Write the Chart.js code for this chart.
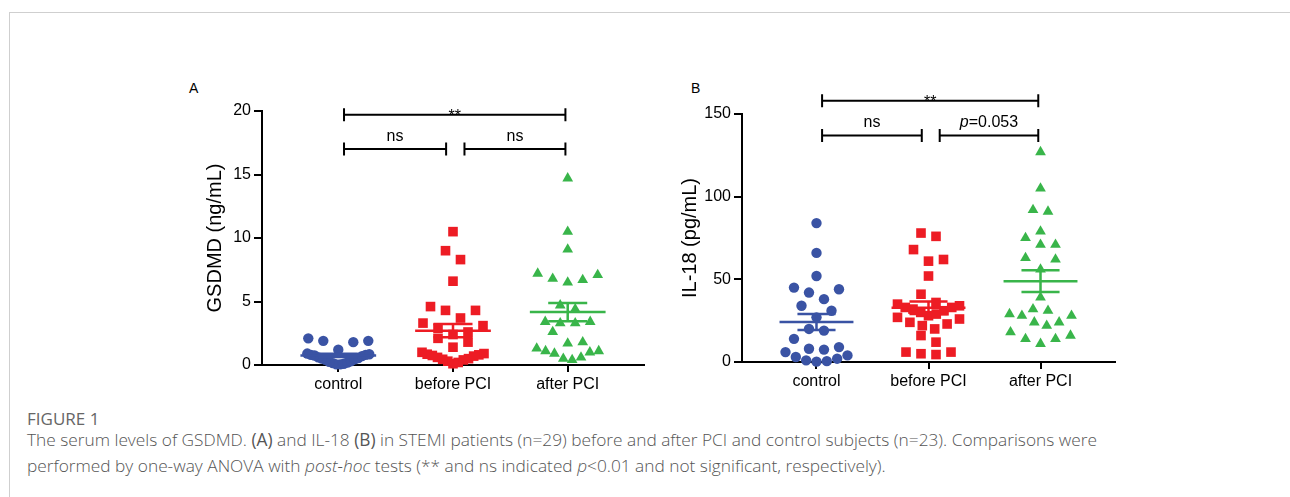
<!DOCTYPE html>
<html>
<head>
<meta charset="utf-8">
<script src="https://cdn.jsdelivr.net/npm/chart.js@4.4.1/dist/chart.umd.min.js"></script>
<style>
  body { margin: 0; background: #fff; width: 1290px; height: 497px; overflow: hidden; position: relative; font-family: "Open Sans", sans-serif; }
  .card { position: absolute; left: 9px; top: 12px; width: 1400px; height: 600px; border: 1px solid #cfcfcf; }
  .panel { position: absolute; }
  .letter { position: absolute; font: 14px/14px "Liberation Sans", Arial, sans-serif; color: #000; }
  .fig { position: absolute; left: 27px; top: 410px; font-size: 17px; line-height: 17px; color: #666; }
  .caption { position: absolute; left: 27px; top: 427px; font-size: 17.3px; font-weight: 300; line-height: 26px; color: #555; white-space: nowrap; }
</style>
</head>
<body>
<div class="card"></div>
<div class="letter" style="left:189px;top:81px">A</div>
<div class="letter" style="left:691px;top:81px">B</div>
<canvas id="chartA" class="panel" width="480" height="320" style="left:180px;top:80px"></canvas>
<canvas id="chartB" class="panel" width="480" height="320" style="left:660px;top:80px"></canvas>
<div class="fig">FIGURE 1</div>
<div class="caption">The serum levels of GSDMD. <b>(A)</b> and IL-18 <b>(B)</b> in STEMI patients (n=29) before and after PCI and control subjects (n=23). Comparisons were<br>performed by one-way ANOVA with <i>post-hoc</i> tests (** and ns indicated <i>p</i>&lt;0.01 and not significant, respectively).</div>

<script>
// --- DATA ---
const categories = ['control', 'before PCI', 'after PCI'];

// GSDMD (ng/mL), panel A
const gsdmdControl = [2.1, 1.9, 1.8, 1.9, 1.2, 0.9, 0.85, 0.8, 0.8, 0.75, 0.7, 0.6, 0.55, 0.5, 0.45, 0.4, 0.3, 0.25, 0.2, 0.15, 0.1, 0.05, 0.05];
const gsdmdBefore = [10.5, 9.0, 8.3, 6.6, 4.6, 4.3, 4.3, 3.7, 3.3, 3.1, 2.9, 2.6, 2.4, 2.1, 1.8, 1.4, 1.0, 0.9, 0.85, 0.8, 0.75, 0.7, 0.6, 0.5, 0.45, 0.4, 0.3, 0.2, 0.1];
const gsdmdAfter = [14.7, 10.5, 9.1, 7.2, 7.1, 6.8, 6.7, 6.5, 4.7, 4.4, 3.4, 3.3, 3.3, 3.4, 2.6, 1.8, 1.7, 1.3, 1.1, 1.1, 1.0, 0.9, 0.6, 0.5, 0.4];
const gsdmdTicks = [0, 5, 10, 15, 20];
const gsdmdBrackets = [
  { from: 0, to: 2, y: 19.7, label: '**' },
  { from: 0, to: 1, y: 17.0, label: 'ns' },
  { from: 1, to: 2, y: 17.0, label: 'ns' }
];

// IL-18 (pg/mL), panel B
const il18Control = [84, 66, 52, 45, 44, 42, 38, 34, 31, 27, 20, 19, 14, 9, 8, 7.5, 6, 4, 3, 2, 1, 0.5, 0.2];
const il18Before = [78, 76, 68, 62, 61, 52, 41, 36, 35, 34, 33, 33, 32, 31, 30, 29, 28, 27, 26, 24, 23, 22, 20, 16, 12, 6, 6, 5, 4.5];
const il18After = [127, 105, 92, 91, 79, 75, 71, 71, 63, 62, 56, 39, 32, 31, 29, 28, 28, 24, 24, 22, 18, 16, 14, 14, 11];
const il18Ticks = [0, 50, 100, 150];
const il18Brackets = [
  { from: 0, to: 2, y: 158, label: '**' },
  { from: 0, to: 1, y: 137, label: 'ns' },
  { from: 1, to: 2, y: 137, label: 'p=0.053' }
];

// --- STYLE ---
const groupColors = ['#3a53a4', '#ed1c24', '#39b54a'];
const markerStyles = ['circle', 'rect', 'triangle'];
const markerRadius = [5.2, 6.8, 6.2];
const FONT = '"Liberation Sans", Arial, sans-serif';
const ROW_PX = 12;   // points closer than this (vertically) share a row
const STEP_PX = 15;  // preferred horizontal spacing in a row
const SPAN_PX = 62;  // max spread of a row (centre to centre)

function meanSem(v) {
  const n = v.length;
  const m = v.reduce((a, b) => a + b, 0) / n;
  const sd = Math.sqrt(v.reduce((a, b) => a + (b - m) ** 2, 0) / (n - 1));
  return [m, sd / Math.sqrt(n)];
}

// mean line + SEM whiskers, gaps via null
function summaryPoints(i, vals) {
  const [m, se] = meanSem(vals);
  const c = i + 1;
  return [
    { x: c - 0.33, y: m }, { x: c + 0.33, y: m }, { x: c, y: null },
    { x: c - 0.17, y: m + se }, { x: c + 0.17, y: m + se }, { x: c, y: null },
    { x: c - 0.17, y: m - se }, { x: c + 0.17, y: m - se }, { x: c, y: null },
    { x: c, y: m - se }, { x: c, y: m + se }
  ];
}

function buildDatasets(groups) {
  const sets = [];
  groups.forEach((vals, i) => {
    sets.push({
      data: summaryPoints(i, vals),
      showLine: true, spanGaps: false, pointRadius: 0,
      borderColor: groupColors[i], borderWidth: 2.5, order: 0, clip: false
    });
  });
  groups.forEach((vals, i) => {
    sets.push({
      values: vals, center: i + 1,
      data: vals.map(v => ({ x: i + 1, y: v })),
      pointStyle: markerStyles[i], pointRadius: markerRadius[i],
      backgroundColor: groupColors[i], borderColor: groupColors[i], borderWidth: 0,
      order: 1, clip: false
    });
  });
  return sets;
}

// Prism-like scatter dot layout: rows of similar values, lowest in the middle
function swarm(chart) {
  const xs = chart.scales.x, ys = chart.scales.y;
  const pxX = xs.getPixelForValue(2) - xs.getPixelForValue(1);
  const pxY = ys.getPixelForValue(0) - ys.getPixelForValue(1);
  chart.data.datasets.forEach(ds => {
    if (!ds.values) return;
    const sorted = ds.values.slice().sort((a, b) => a - b);
    const pts = [];
    let i = 0;
    while (i < sorted.length) {
      const row = [sorted[i]];
      let j = i + 1;
      while (j < sorted.length && (sorted[j] - sorted[i]) * pxY < ROW_PX) row.push(sorted[j++]);
      const n = row.length;
      const step = n > 1 ? Math.min(STEP_PX, SPAN_PX / (n - 1)) : 0;
      row.forEach((v, k) => {
        let slot;
        if (n % 2) slot = k === 0 ? 0 : Math.ceil(k / 2) * (k % 2 ? 1 : -1);
        else slot = (Math.floor(k / 2) + 0.5) * (k % 2 ? -1 : 1);
        pts.push({ x: ds.center + slot * step / pxX, y: v });
      });
      i = j;
    }
    ds.data = pts;
  });
  chart.update('none');
}

function drawLabel(ctx, text, cx, by) {
  if (text.startsWith('p=')) {
    const rest = text.slice(1);
    ctx.font = 'italic 16px ' + FONT;
    const w1 = ctx.measureText('p').width;
    ctx.font = '16px ' + FONT;
    const w2 = ctx.measureText(rest).width;
    const x0 = cx - (w1 + w2) / 2;
    ctx.textAlign = 'left';
    ctx.font = 'italic 16px ' + FONT;
    ctx.fillText('p', x0, by);
    ctx.font = '16px ' + FONT;
    ctx.fillText(rest, x0 + w1, by);
  } else {
    ctx.textAlign = 'center';
    ctx.font = '16px ' + FONT;
    ctx.fillText(text, cx, by);
  }
}

const bracketPlugin = {
  id: 'brackets',
  afterDatasetsDraw(chart, args, opts) {
    const { ctx, scales: { x, y } } = chart;
    ctx.save();
    ctx.strokeStyle = '#000';
    ctx.fillStyle = '#000';
    ctx.lineWidth = 2;
    ctx.textBaseline = 'alphabetic';
    (opts.items || []).forEach(b => {
      const x1 = x.getPixelForValue(b.from + 1 + (b.from === 1 ? 0.1 : 0.05));
      const x2 = x.getPixelForValue(b.to + 1 - (b.to === 1 ? 0.06 : 0.02));
      const yy = y.getPixelForValue(b.y);
      ctx.beginPath();
      ctx.moveTo(x1, yy); ctx.lineTo(x2, yy);
      ctx.moveTo(x1, yy - 6.5); ctx.lineTo(x1, yy + 6.5);
      ctx.moveTo(x2, yy - 6.5); ctx.lineTo(x2, yy + 6.5);
      ctx.stroke();
      drawLabel(ctx, b.label, (x1 + x2) / 2, b.label === '**' ? yy + 6 : yy - 8);
    });
    ctx.restore();
  }
};

function makePanel(id, groups, ticks, title, brackets, lay) {
  const chart = new Chart(document.getElementById(id), {
    type: 'scatter',
    data: { datasets: buildDatasets(groups) },
    plugins: [bracketPlugin],
    options: {
      responsive: false,
      animation: false,
      layout: { padding: { left: 0, top: lay.top, right: lay.right, bottom: 0 } },
      plugins: { legend: { display: false }, tooltip: { enabled: false }, brackets: { items: brackets } },
      scales: {
        x: {
          type: 'linear', min: 0.335, max: 3.665,
          afterBuildTicks: s => { s.ticks = categories.map((c, i) => ({ value: i + 1 })); },
          afterFit: s => { s.height = lay.xHeight; },
          ticks: { callback: v => categories[v - 1], color: '#000', font: { family: FONT, size: 16 }, padding: 3, maxRotation: 0, autoSkip: false },
          grid: { drawOnChartArea: false, tickLength: 7, color: '#000', lineWidth: 2 },
          border: { color: '#000', width: 2 }
        },
        y: {
          min: ticks[0], max: ticks[ticks.length - 1],
          afterBuildTicks: s => { s.ticks = ticks.map(v => ({ value: v })); },
          afterFit: s => { s.width = 82; },
          ticks: { color: '#000', font: { family: FONT, size: 16 }, padding: 3 },
          grid: { drawOnChartArea: false, tickLength: 8, color: '#000', lineWidth: 2 },
          border: { color: '#000', width: 2 },
          title: { display: true, text: title, color: '#000', font: { family: FONT, size: 20 }, padding: { top: lay.titlePad, bottom: 0 } }
        }
      }
    }
  });
  swarm(chart);
  return chart;
}

makePanel('chartA', [gsdmdControl, gsdmdBefore, gsdmdAfter], gsdmdTicks, 'GSDMD (ng/mL)', gsdmdBrackets,
  { top: 31, right: 16, xHeight: 35, titlePad: 23 });
makePanel('chartB', [il18Control, il18Before, il18After], il18Ticks, 'IL-18 (pg/mL)', il18Brackets,
  { top: 34, right: 25, xHeight: 38, titlePad: 18 });
</script>
</body>
</html>
